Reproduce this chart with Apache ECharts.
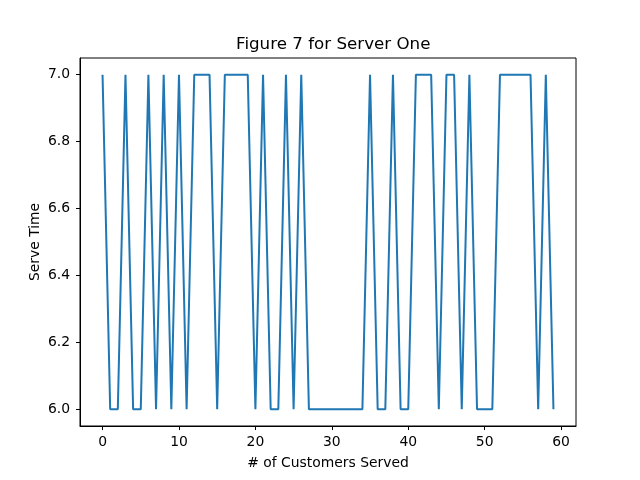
<!DOCTYPE html>
<html>
<head>
<meta charset="utf-8">
<script src="https://cdn.jsdelivr.net/npm/echarts@6/dist/echarts.min.js"></script>
<style>html,body{margin:0;padding:0;background:#fff}#c{width:640px;height:480px}</style>
</head>
<body>
<div id="c"></div>
<script>
const customers = Array.from({length: 60}, (_, i) => i);
const serveTime = [
  7,6,6,7,6,6,7,6,7,6,
  7,6,7,7,7,6,7,7,7,7,
  6,7,6,6,7,6,7,6,6,6,
  6,6,6,6,6,7,6,6,7,6,
  6,7,7,7,6,7,7,6,7,6,
  6,6,7,7,7,7,7,6,7,6
];
const xTicks = [0, 10, 20, 30, 40, 50, 60];
const yTicks = [6.0, 6.2, 6.4, 6.6, 6.8, 7.0];
const titleText = 'Figure 7 for Server One';
const xName = '# of Customers Served';
const yName = 'Serve Time';

const font = 'DejaVu Sans';
const chart = echarts.init(document.getElementById('c'), null, {renderer: 'canvas'});
chart.setOption({
  animation: false,
  backgroundColor: '#fff',
  title: {
    text: titleText, left: 231, top: 31,
    textStyle: {fontFamily: font, fontSize: 16.7, fontWeight: 'normal', color: '#000'}
  },
  grid: {left: 80, right: 64, top: 58, bottom: 54, show: true, borderColor: '#000', borderWidth: 1, backgroundColor: 'transparent'},
  xAxis: {
    type: 'value', min: -2.95, max: 61.95,
    name: xName, nameLocation: 'middle', nameGap: 30, nameMoveOverlap: false,
    nameTextStyle: {fontFamily: font, fontSize: 13.9, color: '#000'},
    splitLine: {show: false},
    axisLine: {show: true, onZero: false, lineStyle: {color: '#000', width: 1}},
    axisTick: {show: true, inside: false, length: 4, lineStyle: {color: '#000'}, customValues: xTicks},
    axisLabel: {fontFamily: font, fontSize: 13.9, color: '#000', margin: 9, customValues: xTicks, formatter: v => String(v)}
  },
  yAxis: {
    type: 'value', min: 5.95, max: 7.05,
    name: yName, nameLocation: 'middle', nameGap: 38, nameMoveOverlap: false,
    nameTextStyle: {fontFamily: font, fontSize: 13.9, color: '#000'},
    splitLine: {show: false},
    axisLine: {show: true, onZero: false, lineStyle: {color: '#000', width: 1}},
    axisTick: {show: true, inside: false, length: 4, lineStyle: {color: '#000'}, customValues: yTicks},
    axisLabel: {fontFamily: font, fontSize: 13.9, color: '#000', margin: 10, customValues: yTicks, formatter: v => v.toFixed(1)}
  },
  series: [{
    type: 'line',
    data: customers.map((x, i) => [x, serveTime[i]]),
    showSymbol: false, symbol: 'none',
    lineStyle: {color: '#1f77b4', width: 2},
    itemStyle: {color: '#1f77b4'}
  }]
});
</script>
</body>
</html>
